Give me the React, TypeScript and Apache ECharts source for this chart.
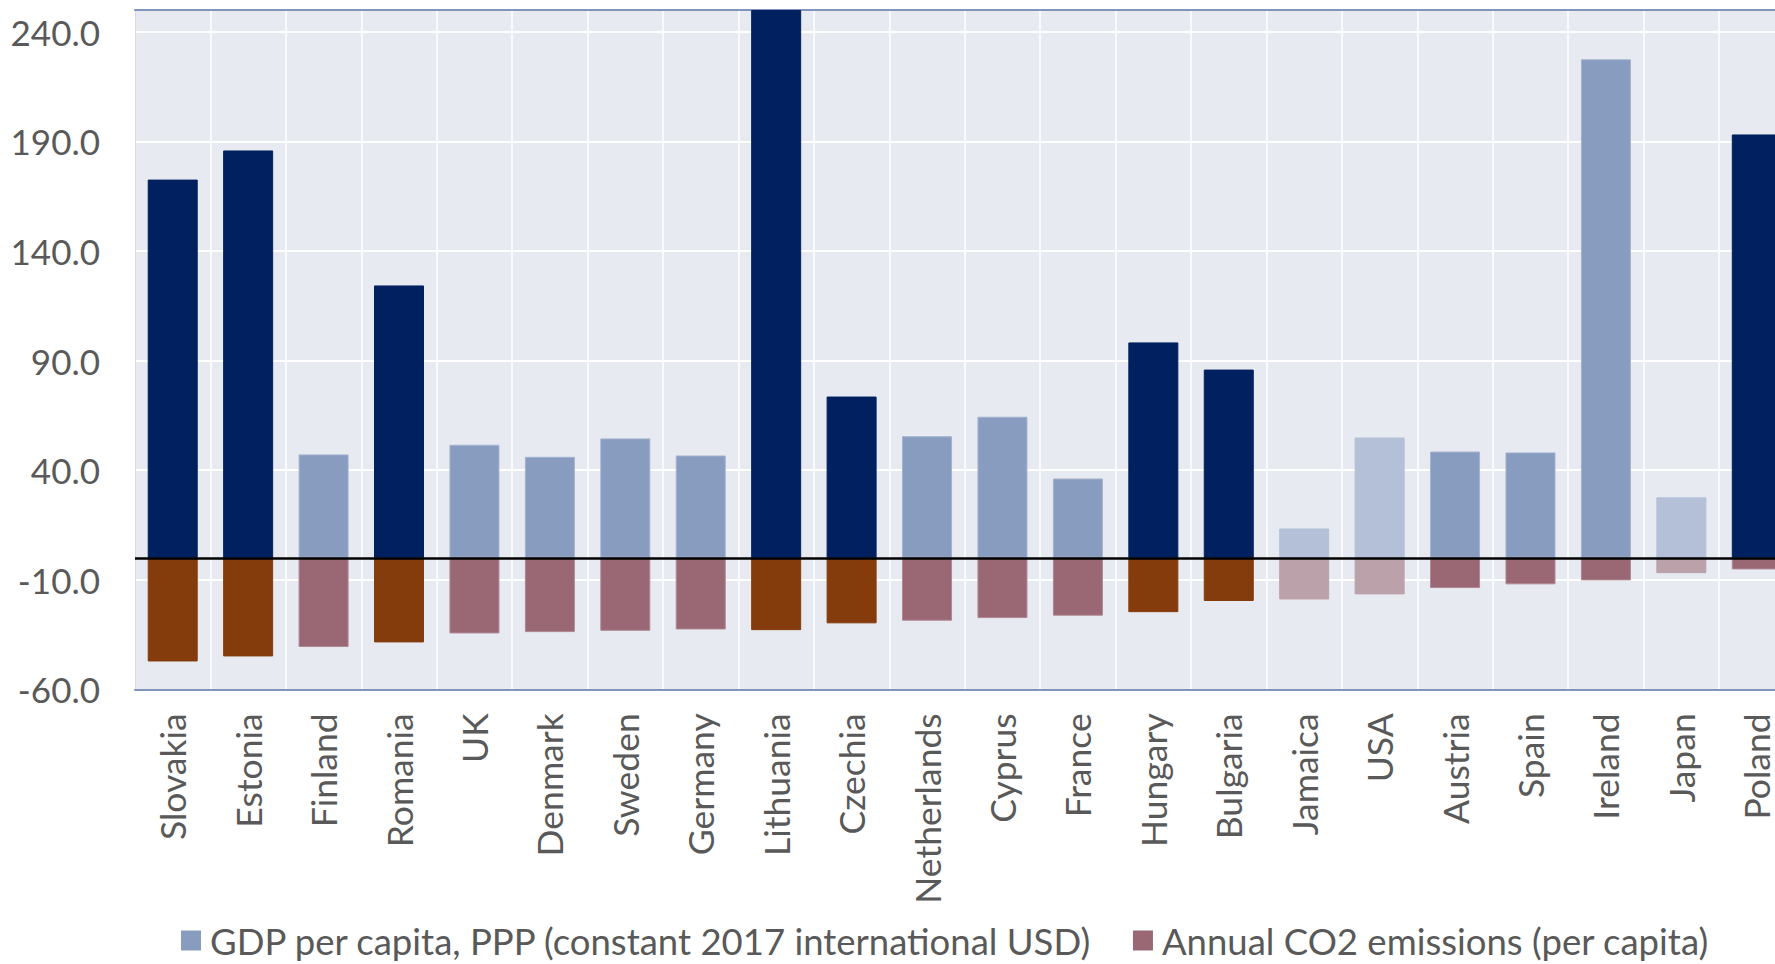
import React, { useEffect, useRef } from "react";
import * as echarts from "echarts";

// Countries, in the order they are plotted
const countries = [
  "Slovakia", "Estonia", "Finland", "Romania", "UK", "Denmark", "Sweden",
  "Germany", "Lithuania", "Czechia", "Netherlands", "Cyprus", "France",
  "Hungary", "Bulgaria", "Jamaica", "USA", "Austria", "Spain", "Ireland",
  "Japan", "Poland",
];

// GDP per capita, PPP — change (%)
const gdpChange = [
  172.6, 185.9, 47.2, 124.3, 51.6, 46.1, 54.5, 46.7, 250.0, 73.6, 55.5,
  64.4, 36.2, 98.3, 85.9, 13.4, 54.9, 48.5, 48.1, 227.5, 27.6, 193.2,
];

// Annual CO2 emissions per capita — change (%)
const co2Change = [
  -47.3, -45.0, -40.7, -38.6, -34.5, -33.9, -33.3, -32.7, -33.0, -29.9, -28.7,
  -27.5, -26.4, -24.8, -19.7, -19.0, -16.7, -13.8, -12.1, -10.3, -7.0, -5.3,
];

// Emphasis group of each bar: "focus" = highlighted, "peer" = comparison, "other" = faded
const gdpGroup = [
  "focus", "focus", "peer", "focus", "peer", "peer", "peer", "peer", "focus",
  "focus", "peer", "peer", "peer", "focus", "focus", "other", "other", "peer",
  "peer", "peer", "other", "focus",
];
const co2Group = [
  "focus", "focus", "peer", "focus", "peer", "peer", "peer", "peer", "focus",
  "focus", "peer", "peer", "peer", "focus", "focus", "other", "other", "peer",
  "peer", "peer", "other", "peer",
];

const yTicks = { min: -60, max: 250, interval: 50 };

const seriesNames = [
  "GDP per capita, PPP (constant 2017 international USD)",
  "Annual CO2 emissions (per capita)",
];

const gdpColors: Record<string, string> = {
  focus: "#002060",
  peer: "#889cbf",
  other: "#b3c0d7",
};
const gdpBorders: Record<string, string> = {
  focus: "#002060",
  peer: "#a3b3cf",
  other: "#b3c0d7",
};
const co2Colors: Record<string, string> = {
  focus: "#843c0c",
  peer: "#9a6774",
  other: "#bba1aa",
};
const co2Borders: Record<string, string> = {
  focus: "#843c0c",
  peer: "#ae8892",
  other: "#bba1aa",
};

const labelColor = "#595959";
const frameColor = "#7f95bc";
const font = "Lato, 'Open Sans', sans-serif";

export default function App() {
  const ref = useRef<HTMLDivElement>(null);

  useEffect(() => {
    if (!ref.current) return;
    const chart = echarts.init(ref.current, null, { renderer: "svg" });

    const gdpData = gdpChange.map((v, i) => ({
      value: v,
      itemStyle: {
        color: gdpColors[gdpGroup[i]],
        borderColor: gdpBorders[gdpGroup[i]],
        borderWidth: 1,
      },
    }));
    const co2Data = co2Change.map((v, i) => ({
      value: v,
      itemStyle: {
        color: co2Colors[co2Group[i]],
        borderColor: co2Borders[co2Group[i]],
        borderWidth: 1,
      },
    }));

    chart.setOption({
      animation: false,
      textStyle: { fontFamily: font },
      grid: {
        left: 135,
        top: 10,
        width: 1659.5,
        height: 679.3,
        show: true,
        backgroundColor: "#e8eaf1",
        borderWidth: 0,
      },
      legend: {
        left: 181,
        top: 922,
        padding: 0,
        icon: "rect",
        itemWidth: 20,
        itemHeight: 20,
        itemGap: 40,
        data: seriesNames,
        textStyle: {
          fontSize: 36.5,
          color: labelColor,
          fontFamily: font,
          padding: [0, 0, 0, 4],
        },
      },
      xAxis: [
        {
          type: "category",
          data: countries,
          position: "bottom",
          axisLine: { show: true, onZero: false, lineStyle: { color: frameColor, width: 2 } },
          axisTick: { show: false },
          axisLabel: {
            rotate: 90,
            interval: 0,
            fontSize: 35.5,
            lineHeight: 30,
            color: labelColor,
            margin: 24,
            fontFamily: font,
          },
          splitLine: { show: true, lineStyle: { color: "#ffffff", width: 1.5 } },
        },
        {
          type: "category",
          data: countries,
          position: "top",
          axisLine: { show: true, onZero: false, lineStyle: { color: frameColor, width: 2 } },
          axisTick: { show: false },
          axisLabel: { show: false },
          splitLine: { show: false },
        },
      ],
      yAxis: {
        type: "value",
        min: yTicks.min,
        max: yTicks.max,
        interval: yTicks.interval,
        axisLine: { show: true, lineStyle: { color: "#d6dae5", width: 1 } },
        axisTick: { show: false },
        axisLabel: {
          fontSize: 35,
          color: labelColor,
          margin: 35,
          fontFamily: font,
          formatter: (v: number) => (v === yTicks.max ? "" : v.toFixed(1)),
        },
        splitLine: { show: true, lineStyle: { color: "#ffffff", width: 2 } },
      },
      series: [
        {
          name: seriesNames[0],
          type: "bar",
          xAxisIndex: 0,
          barWidth: 50,
          barGap: "-100%",
          itemStyle: { color: gdpColors.peer },
          data: gdpData,
        },
        {
          name: seriesNames[1],
          type: "bar",
          xAxisIndex: 0,
          barWidth: 50,
          barGap: "-100%",
          itemStyle: { color: co2Colors.peer },
          data: co2Data,
          markLine: {
            silent: true,
            symbol: "none",
            label: { show: false },
            lineStyle: { color: "#000000", width: 2.5, type: "solid" },
            data: [{ yAxis: 0 }],
          },
        },
      ],
    });

    return () => chart.dispose();
  }, []);

  return (
    <div
      style={{
        position: "fixed",
        left: 0,
        top: 0,
        width: 1775,
        height: 964,
        overflow: "hidden",
        background: "#ffffff",
      }}
    >
      <div ref={ref} style={{ width: 1810, height: 964 }} />
    </div>
  );
}
